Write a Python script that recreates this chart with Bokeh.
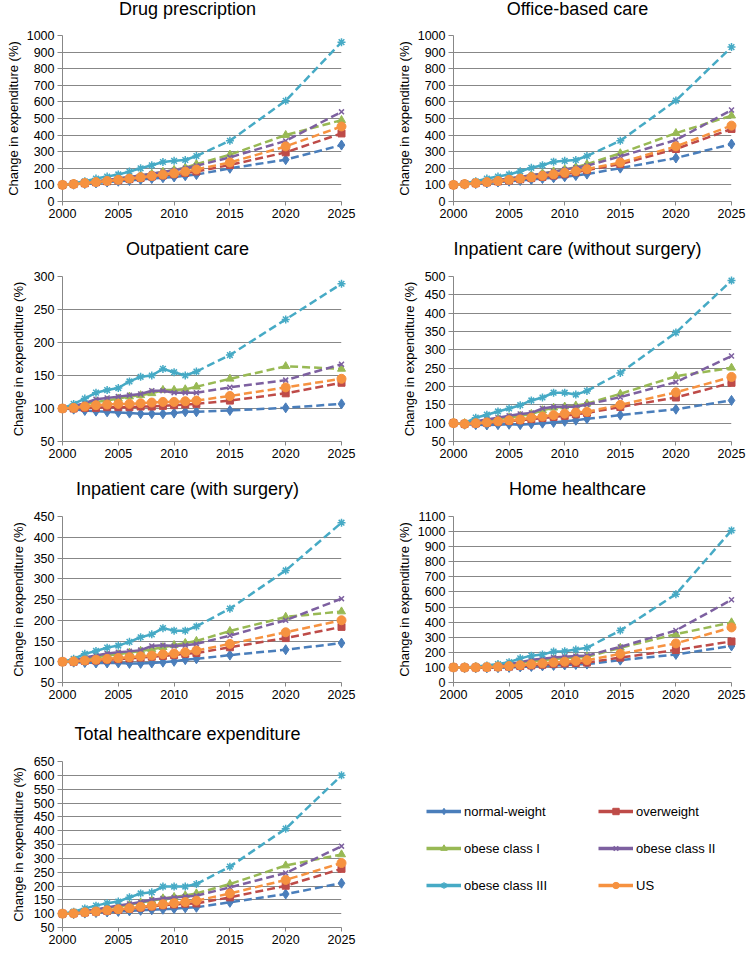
from bokeh.plotting import figure
from bokeh.layouts import column, row
from bokeh.models import Range1d, FixedTicker, Label, Legend, LegendItem
from bokeh.embed import file_html
from bokeh.resources import INLINE

# ---------------- data ----------------
years = [2000, 2001, 2002, 2003, 2004, 2005, 2006, 2007, 2008, 2009, 2010, 2011, 2012, 2015, 2020, 2025]
x_ticks = [2000, 2005, 2010, 2015, 2020, 2025]
series_names = ["normal-weight", "overweight", "obese class I", "obese class II", "obese class III", "US"]

drug_normal = [100, 104, 108, 112, 117, 122, 127, 132, 138, 143, 148, 155, 162, 200, 252, 340]
drug_over = [100, 105, 110, 116, 122, 128, 135, 142, 150, 157, 164, 172, 181, 220, 296, 410]
drug_ob1 = [100, 106, 113, 121, 129, 138, 147, 157, 167, 178, 190, 203, 225, 282, 400, 490]
drug_ob2 = [100, 106, 113, 121, 129, 138, 147, 157, 167, 178, 188, 200, 215, 266, 365, 540]
drug_ob3 = [100, 110, 122, 138, 150, 163, 180, 200, 218, 238, 245, 250, 274, 366, 607, 960]
drug_us = [100, 105, 111, 117, 124, 131, 138, 146, 154, 162, 170, 180, 193, 235, 332, 452]

office_normal = [100, 104, 108, 112, 117, 122, 127, 132, 138, 143, 149, 156, 165, 201, 262, 346]
office_over = [100, 105, 110, 115, 121, 127, 134, 141, 148, 156, 164, 176, 189, 225, 316, 437]
office_ob1 = [100, 106, 113, 121, 129, 138, 148, 158, 169, 181, 193, 207, 225, 290, 412, 517]
office_ob2 = [100, 106, 113, 121, 129, 138, 148, 158, 168, 180, 192, 204, 215, 272, 370, 551]
office_ob3 = [100, 110, 122, 138, 150, 163, 182, 203, 218, 240, 245, 250, 274, 366, 608, 930]
office_us = [100, 105, 111, 117, 124, 131, 138, 146, 155, 164, 173, 183, 195, 235, 332, 457]

out_normal = [100, 99, 97, 96, 95, 94, 93, 92, 92, 92, 93, 95, 95, 97, 101, 107]
out_over = [100, 100, 101, 101, 102, 102, 102, 103, 103, 104, 105, 106, 107, 112, 123, 139]
out_ob1 = [100, 103, 106, 110, 112, 115, 118, 120, 123, 128, 128, 129, 133, 145, 164, 160]
out_ob2 = [100, 104, 108, 114, 116, 118, 120, 122, 127, 127, 124, 124, 124, 132, 143, 167]
out_ob3 = [100, 107, 115, 124, 128, 131, 141, 148, 150, 160, 155, 150, 156, 181, 235, 289]
out_us = [100, 101, 103, 105, 106, 107, 107, 108, 109, 110, 110, 111, 112, 119, 132, 145]

inwo_normal = [100, 97, 96, 95, 96, 97, 96, 98, 100, 102, 105, 108, 112, 122, 138, 162]
inwo_over = [100, 98, 99, 101, 104, 106, 108, 111, 114, 117, 120, 124, 128, 144, 170, 210]
inwo_ob1 = [100, 100, 103, 107, 111, 115, 120, 125, 135, 142, 145, 148, 153, 180, 228, 251]
inwo_ob2 = [100, 100, 105, 110, 115, 120, 125, 128, 140, 145, 145, 145, 151, 171, 212, 283]
inwo_ob3 = [100, 100, 115, 123, 132, 140, 149, 162, 170, 183, 183, 178, 188, 237, 347, 489]
inwo_us = [100, 98, 100, 102, 105, 108, 110, 115, 118, 122, 126, 129, 131, 150, 184, 226]

inw_normal = [100, 99, 98, 97, 97, 97, 96, 96, 97, 99, 101, 105, 107, 116, 129, 145]
inw_over = [100, 100, 102, 103, 105, 106, 108, 110, 112, 114, 116, 119, 121, 135, 157, 184]
inw_ob1 = [100, 102, 106, 110, 115, 118, 122, 126, 130, 135, 140, 145, 150, 174, 208, 221]
inw_ob2 = [100, 103, 110, 115, 120, 123, 125, 128, 138, 140, 138, 140, 143, 163, 200, 252]
inw_ob3 = [100, 107, 119, 126, 134, 139, 148, 159, 166, 181, 175, 175, 185, 228, 320, 435]
inw_us = [100, 101, 103, 105, 107, 109, 111, 113, 115, 118, 120, 123, 127, 143, 171, 200]

home_normal = [100, 98, 97, 97, 98, 100, 103, 106, 110, 113, 116, 119, 122, 148, 186, 242]
home_over = [100, 99, 99, 100, 102, 105, 109, 113, 118, 122, 126, 129, 132, 165, 215, 272]
home_ob1 = [100, 100, 102, 105, 110, 118, 128, 140, 148, 155, 160, 165, 170, 230, 320, 398]
home_ob2 = [100, 100, 103, 107, 113, 122, 135, 150, 158, 165, 170, 175, 178, 236, 345, 548]
home_ob3 = [100, 100, 106, 112, 122, 135, 160, 178, 185, 205, 207, 218, 230, 345, 585, 1008]
home_us = [100, 99, 100, 102, 105, 109, 115, 121, 127, 133, 138, 143, 148, 190, 259, 365]

total_normal = [100, 100, 102, 104, 106, 108, 110, 112, 114, 116, 118, 121, 123, 141, 171, 210]
total_over = [100, 101, 104, 107, 110, 114, 118, 122, 126, 130, 133, 136, 137, 159, 201, 262]
total_ob1 = [100, 102, 108, 113, 120, 126, 132, 140, 147, 155, 160, 166, 173, 207, 274, 314]
total_ob2 = [100, 102, 110, 115, 122, 130, 135, 142, 150, 155, 158, 162, 165, 195, 247, 344]
total_ob3 = [100, 107, 119, 129, 138, 144, 159, 173, 177, 198, 198, 198, 207, 270, 407, 600]
total_us = [100, 101, 105, 108, 112, 116, 120, 125, 129, 134, 138, 142, 147, 173, 222, 283]

panel_titles = ["Drug prescription", "Office-based care", "Outpatient care",
                "Inpatient care (without surgery)", "Inpatient care (with surgery)",
                "Home healthcare", "Total healthcare expenditure"]
y_mins = [0, 0, 50, 50, 50, 0, 50]
y_maxs = [1000, 1000, 300, 500, 450, 1100, 650]
y_steps = [100, 100, 50, 50, 50, 100, 50]
panel_data = [
    [drug_normal, drug_over, drug_ob1, drug_ob2, drug_ob3, drug_us],
    [office_normal, office_over, office_ob1, office_ob2, office_ob3, office_us],
    [out_normal, out_over, out_ob1, out_ob2, out_ob3, out_us],
    [inwo_normal, inwo_over, inwo_ob1, inwo_ob2, inwo_ob3, inwo_us],
    [inw_normal, inw_over, inw_ob1, inw_ob2, inw_ob3, inw_us],
    [home_normal, home_over, home_ob1, home_ob2, home_ob3, home_us],
    [total_normal, total_over, total_ob1, total_ob2, total_ob3, total_us],
]

# ---------------- styles / layout ----------------
FONT = "Liberation Sans"
colors = ["#4A7EBB", "#BE4B48", "#98B954", "#7D60A0", "#46AAC5", "#F69240"]
markers = ["diamond", "square", "triangle", "x", "asterisk", "circle"]
msizes = [10, 7, 8, 7, 8, 9]
GRID = "#878787"

COL_W = [375, 373]
COL_LEFT = [62, 78]
COL_RIGHT = [34, 17]
TITLE_X = [187, 202]          # title centre, pixels from the cell's left edge
TITLE_H = [21, 23, 23, 28]
TITLE_C = [8, 10, 10, 15]
PLOT_H = [217, 217, 217, 207]
PLOT_TOP = [14, 15, 15, 15]
FRAME_H = [166, 165, 166, 166]
N_SOLID = 13


def make_title(idx):
    r, c = idx // 2, idx % 2
    w, th = COL_W[c], TITLE_H[r]
    fw = w - COL_LEFT[c] - COL_RIGHT[c]   # frame width (frames are aligned in a column)
    t = figure(width=w, height=th, x_range=Range1d(0, fw), y_range=Range1d(0, th),
               x_axis_type=None, y_axis_type=None, output_backend="svg",
               toolbar_location=None, min_border=0,
               min_border_left=COL_LEFT[c], min_border_right=COL_RIGHT[c])
    t.outline_line_color = None
    t.xgrid.visible = False
    t.ygrid.visible = False
    t.add_layout(Label(x=TITLE_X[c] - COL_LEFT[c], y=th - TITLE_C[r], text=panel_titles[idx],
                       text_align="center", text_baseline="middle", text_font=FONT,
                       text_font_size="18px", text_color="#000000"))
    return t


def make_panel(idx):
    r, c = idx // 2, idx % 2
    h = PLOT_H[r]
    ymin, ymax, step = y_mins[idx], y_maxs[idx], y_steps[idx]
    p = figure(width=COL_W[c], height=h, x_range=Range1d(2000, 2025),
               y_range=Range1d(ymin, ymax), output_backend="svg",
               toolbar_location=None,
               min_border_left=COL_LEFT[c], min_border_right=COL_RIGHT[c],
               min_border_top=PLOT_TOP[r],
               min_border_bottom=h - PLOT_TOP[r] - FRAME_H[r])
    p.outline_line_color = None
    p.xgrid.visible = False
    p.ygrid.grid_line_color = GRID
    p.ygrid.grid_line_width = 1
    p.xaxis.ticker = FixedTicker(ticks=x_ticks)
    p.yaxis.ticker = FixedTicker(ticks=list(range(ymin, ymax + 1, step)))
    for ax in (p.xaxis[0], p.yaxis[0]):
        ax.axis_line_color = GRID
        ax.major_tick_line_color = GRID
        ax.minor_tick_line_color = None
        ax.major_tick_in = 0
        ax.major_tick_out = 5
        ax.major_label_text_font = FONT
        ax.major_label_text_font_size = "12.5px"
        ax.major_label_text_color = "#000000"
        ax.major_label_standoff = 3
    p.xaxis.major_tick_out = 4
    p.yaxis.axis_label = "Change in expenditure (%)"
    p.yaxis.axis_label_text_font = FONT
    p.yaxis.axis_label_text_font_style = "normal"
    p.yaxis.axis_label_text_font_size = "13px"
    p.yaxis.axis_label_text_color = "#000000"
    p.yaxis.axis_label_standoff = 3 if ymax >= 1000 else 5

    for vals, col, mk, ms in zip(panel_data[idx], colors, markers, msizes):
        p.line(years[:N_SOLID], vals[:N_SOLID], line_color=col, line_width=2.5, level="overlay")
        p.line(years[N_SOLID - 1:], vals[N_SOLID - 1:], line_color=col, line_width=2.5,
               line_dash="8 4", level="overlay")
        p.scatter(years, vals, marker=mk, size=ms, fill_color=col, line_color=col,
                  line_width=1.5 if mk in ("x", "asterisk") else 1, level="overlay")
    return column(make_title(idx), p, spacing=0)


cells = [make_panel(i) for i in range(7)]

# ---------------- legend panel ----------------
lh = TITLE_H[3] + PLOT_H[3]
lw = COL_W[1]
lp = figure(width=lw, height=lh, x_range=Range1d(0, 1), y_range=Range1d(0, 1),
            x_axis_type=None, y_axis_type=None, output_backend="svg",
            toolbar_location=None, min_border=0)
lp.outline_line_color = None
lp.xgrid.visible = False
lp.ygrid.visible = False
items = []
for name, col, mk in zip(series_names, colors, markers):
    # dummy point outside the visible range: only its legend glyph shows
    lr = lp.line(x=[-10, -9], y=[-10, -9], line_color=col, line_width=3.5)
    sr = lp.scatter(x=[-10], y=[-10], marker=mk, fill_color=col, line_color=col,
                    line_width=1.5 if mk in ("x", "asterisk") else 1)
    items.append(LegendItem(label=name, renderers=[lr, sr]))

for ci, xloc in enumerate([51, 223]):
    leg = Legend(items=items[ci::2], location=(xloc, lh - 175), orientation="vertical",
                 border_line_color=None, background_fill_alpha=0, padding=0, margin=0,
                 glyph_width=35, glyph_height=16, label_height=16, label_standoff=3,
                 spacing=21, label_text_font=FONT, label_text_font_size="13px",
                 label_text_color="#000000")
    lp.add_layout(leg, "center")

layout = column(
    row(cells[0], cells[1], spacing=0),
    row(cells[2], cells[3], spacing=0),
    row(cells[4], cells[5], spacing=0),
    row(cells[6], lp, spacing=0),
    spacing=0,
)

open("out.html", "w").write(file_html(layout, INLINE))
